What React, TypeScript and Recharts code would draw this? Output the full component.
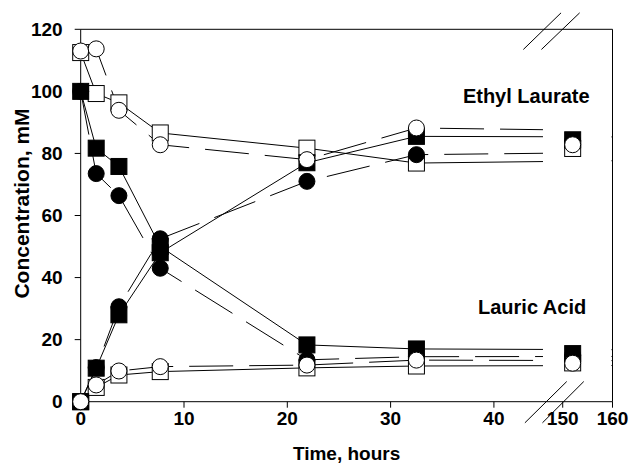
import React from 'react';
import {
  ComposedChart,
  Line,
  Scatter,
  XAxis,
  YAxis,
  Label,
  ReferenceArea,
  ReferenceLine,
  ReferenceDot,
} from 'recharts';

const FONT = '"Liberation Sans", Arial, Helvetica, sans-serif';

// sampling times, hours
const TIMES = [0, 1.5, 3.7, 7.7, 21.9, 32.5, 152];

// esterification run (filled markers)
const ACID_FILLED_SQ = [100, 81.7, 75.8, 50, 18.3, 17, 15.5];
const ACID_FILLED_CI = [100, 73.5, 66.4, 43, 13.5, 14.5, 15];
const ESTER_FILLED_SQ = [0, 10.8, 28, 48, 77, 85.5, 84.4];
const ESTER_FILLED_CI = [0, 11, 30.6, 52.5, 71, 79.6, 84];

// hydrolysis run (open markers)
const ESTER_OPEN_SQ = [112.5, 99.3, 96.3, 86.6, 81.7, 76.9, 81.6];
const ESTER_OPEN_CI = [113, 113.7, 93.9, 82.8, 78, 88.2, 82.8];
const ACID_OPEN_SQ = [0, 4.6, 8.6, 9.7, 10.9, 11.5, 12.5];
const ACID_OPEN_CI = [0, 5.4, 9.9, 11.3, 11.8, 13.4, 12.4];

const Y_TICKS = [0, 20, 40, 60, 80, 100, 120];
const X_TICKS_EARLY = [0, 10, 20, 30, 40];
const X_TICKS_LATE = [150, 160];

// broken time axis: 0-40 h on the main scale, 150-160 h squeezed after the break
const BREAK_AT = 46.66; // main-axis position of 150 h
const XMAX = 51.48; // main-axis position of 160 h
const LATE_UNIT = (XMAX - BREAK_AT) / 10;
const LATE_MIN = 150 - BREAK_AT / LATE_UNIT;

type Kind = 'square' | 'circle';

const SERIES = [
  { key: 'esterOpenSq', values: ESTER_OPEN_SQ, kind: 'square' as Kind, filled: false },
  { key: 'acidOpenSq', values: ACID_OPEN_SQ, kind: 'square' as Kind, filled: false },
  { key: 'acidFilledSq', values: ACID_FILLED_SQ, kind: 'square' as Kind, filled: true },
  { key: 'esterFilledSq', values: ESTER_FILLED_SQ, kind: 'square' as Kind, filled: true },
  { key: 'acidFilledCi', values: ACID_FILLED_CI, kind: 'circle' as Kind, filled: true },
  { key: 'esterFilledCi', values: ESTER_FILLED_CI, kind: 'circle' as Kind, filled: true },
  { key: 'esterOpenCi', values: ESTER_OPEN_CI, kind: 'circle' as Kind, filled: false },
  { key: 'acidOpenCi', values: ACID_OPEN_CI, kind: 'circle' as Kind, filled: false },
];

const rows = TIMES.map((t, i) => {
  const row: Record<string, number> = { t };
  SERIES.forEach((s) => {
    row[s.key] = s.values[i];
  });
  return row;
});

const pointsFor = (values: number[], late: boolean) =>
  TIMES.map((t, i) => ({ t, v: values[i] })).filter((p) => (late ? p.t >= 150 : p.t <= 40));

const Marker = (props: any) => {
  const { cx, cy, kind, filled } = props;
  if (cx == null || cy == null) return null;
  const fill = filled ? '#000' : '#fff';
  if (kind === 'square') {
    return <rect x={cx - 8} y={cy - 8} width={16} height={16} fill={fill} stroke="#000" strokeWidth={1} />;
  }
  return <circle cx={cx} cy={cy} r={8} fill={fill} stroke="#000" strokeWidth={1} />;
};

const tickStyle = { fill: '#000', fontSize: 19, fontWeight: 'bold', fontFamily: FONT };

const formatTime = (v: number) => {
  if (Math.abs(v - BREAK_AT) < 0.01) return String(X_TICKS_LATE[0]);
  if (Math.abs(v - XMAX) < 0.01) return String(X_TICKS_LATE[1]);
  return String(v);
};

const YTitle = (props: any) => {
  const vb = props.viewBox || { y: 29, height: 372 };
  const x = 29;
  const y = vb.y + vb.height / 2 - 12;
  return (
    <text
      x={x}
      y={y}
      transform={`rotate(-90 ${x} ${y})`}
      textAnchor="middle"
      fill="#000"
      fontSize={21}
      fontWeight="bold"
      fontFamily={FONT}
    >
      Concentration, mM
    </text>
  );
};

const labelStyle = { fill: '#000', fontSize: 20, fontWeight: 'bold', fontFamily: FONT };

export default function App() {
  return (
    <div style={{ position: 'absolute', left: 0, top: 0, background: '#fff' }}>
      <ComposedChart
        width={630}
        height={464}
        data={rows}
        margin={{ top: 29.3, right: 17.5, bottom: 0, left: 0 }}
      >
        <YAxis
          type="number"
          domain={[0, 120]}
          ticks={Y_TICKS}
          width={80.7}
          tickSize={6}
          tickMargin={12}
          tick={tickStyle}
          axisLine={{ stroke: '#000' }}
          tickLine={{ stroke: '#000' }}
        >
          <Label content={<YTitle />} />
        </YAxis>
        <XAxis
          xAxisId="main"
          dataKey="t"
          type="number"
          domain={[0, XMAX]}
          allowDataOverflow
          ticks={[...X_TICKS_EARLY, BREAK_AT, XMAX]}
          tickFormatter={formatTime}
          height={62.3}
          tickSize={6}
          tickMargin={4}
          tick={tickStyle}
          axisLine={{ stroke: '#000' }}
          tickLine={{ stroke: '#000' }}
        >
          <Label value="Time, hours" position="insideBottom" offset={4} {...labelStyle} fontSize={19} />
        </XAxis>
        <XAxis xAxisId="early" dataKey="t" type="number" domain={[0, XMAX]} height={0} hide />
        <XAxis xAxisId="late" dataKey="t" type="number" domain={[LATE_MIN, 160]} height={0} hide />

        {SERIES.map((s) => (
          <Line
            key={`line-${s.key}`}
            xAxisId="main"
            dataKey={s.key}
            stroke="#000"
            strokeWidth={1}
            strokeDasharray={s.kind === 'circle' ? '44 16' : undefined}
            dot={false}
            activeDot={false}
            isAnimationActive={false}
          />
        ))}

        {/* blank out the lines inside the axis break */}
        <ReferenceArea xAxisId="main" x1={44.75} x2={XMAX - 0.1} y1={74} y2={91} fill="#fff" fillOpacity={1} stroke="none" zIndex={450} />
        <ReferenceArea xAxisId="main" x1={44.75} x2={XMAX - 0.1} y1={9.5} y2={18.5} fill="#fff" fillOpacity={1} stroke="none" zIndex={450} />

        {/* frame + break marks */}
        <ReferenceLine xAxisId="main" y={120} stroke="#000" zIndex={550} />
        <ReferenceLine xAxisId="main" x={XMAX} stroke="#000" zIndex={550} />
        <ReferenceLine xAxisId="main" segment={[{ x: 42.85, y: 113.5 }, { x: 46.5, y: 125.3 }]} stroke="#000" ifOverflow="visible" zIndex={550} />
        <ReferenceLine xAxisId="main" segment={[{ x: 44.6, y: 113.5 }, { x: 48.3, y: 125.3 }]} stroke="#000" ifOverflow="visible" zIndex={550} />
        <ReferenceLine xAxisId="main" segment={[{ x: 43.0, y: -6.8 }, { x: 47.05, y: 6.5 }]} stroke="#000" ifOverflow="visible" zIndex={550} />
        <ReferenceLine xAxisId="main" segment={[{ x: 44.7, y: -6.8 }, { x: 48.7, y: 6.5 }]} stroke="#000" ifOverflow="visible" zIndex={550} />

        {SERIES.map((s) => (
          <Scatter
            key={`early-${s.key}`}
            xAxisId="early"
            data={pointsFor(s.values, false)}
            dataKey="v"
            shape={(p: any) => <Marker {...p} kind={s.kind} filled={s.filled} />}
            isAnimationActive={false}
          />
        ))}
        {SERIES.map((s) => (
          <Scatter
            key={`late-${s.key}`}
            xAxisId="late"
            data={pointsFor(s.values, true)}
            dataKey="v"
            shape={(p: any) => <Marker {...p} kind={s.kind} filled={s.filled} />}
            isAnimationActive={false}
          />
        ))}

        <ReferenceDot xAxisId="main" x={43.13} y={98.4} r={0} fill="none" stroke="none" label={{ value: 'Ethyl Laurate', position: 'center', ...labelStyle }} />
        <ReferenceDot xAxisId="main" x={43.7} y={30.4} r={0} fill="none" stroke="none" label={{ value: 'Lauric Acid', position: 'center', ...labelStyle }} />
      </ComposedChart>
    </div>
  );
}
